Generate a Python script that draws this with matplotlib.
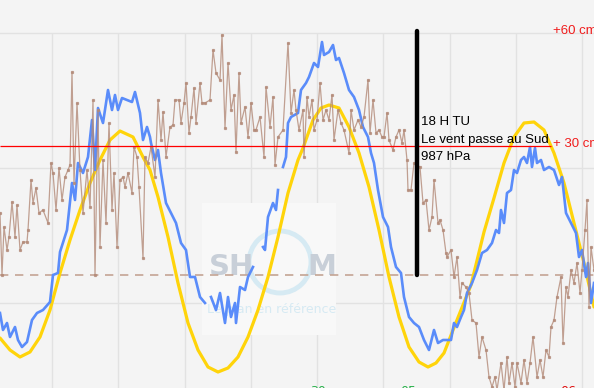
import numpy as np
import matplotlib.pyplot as plt
from matplotlib.patches import Circle, Rectangle

nan = np.nan

# x: time in chart columns, y: height relative to the dashed reference level
tide_t = [0, 10, 20, 30, 40, 50, 60, 70, 80, 90, 100, 110, 120, 133, 143, 150, 158, 168, 178, 188,
          198, 208, 218, 228, 238, 248, 258, 268, 278, 288, 298, 303, 313, 321, 329, 339, 349, 359, 369,
          379, 389, 399, 409, 419, 428, 436, 444, 457, 471, 484, 494, 504, 514, 524, 534, 544, 554, 564,
          574, 584, 594]
tide_h = [-63, -75, -82, -77, -62, -35, 2, 35, 65, 92, 115, 135, 144, 138, 118, 105, 78, 38, -8, -48,
          -75, -92, -97, -93, -82, -62, -35, -2, 38, 82, 115, 127, 155, 167, 170, 167, 148, 122, 88,
          45, -2, -42, -72, -87, -92, -88, -78, -45, -10, 43, 77, 112, 138, 152, 153, 145, 122, 92,
          52, 12, -32]

obs_t = [0, 3, 7, 10, 15, 18, 22, 27, 32, 37, 43, 50, 53, 58, 60, 67, 72, 75, 78, 83,
         88, 92, 95, 98, 103, 108, 112, 115, 118, 122, 127, 132, 135, 140, 143, 147, 150, 151, 155, 158,
         161, 166, 171, 176, 181, 186, 190, 195, 200, 205, 208, 211, 216, 220, 225, 228, 231, 235, 236, 240,
         245, 248, 253, 258, 263, 265, 268, 273, 276, 278, 280, 283, 286, 288, 291, 298, 301, 306, 309, 314,
         318, 322, 324, 329, 333, 336, 339, 344, 349, 354, 359, 363, 368, 371, 374, 378, 383, 388, 391, 396,
         401, 404, 409, 414, 419, 424, 429, 434, 438, 443, 451, 454, 457, 461, 464, 467, 472, 477, 482, 487,
         492, 496, 499, 501, 504, 507, 511, 514, 517, 521, 524, 527, 530, 532, 535, 537, 541, 544, 549, 554,
         559, 562, 566, 571, 576, 579, 582, 586, 588, 591, 594]
obs_h = [-38, -55, -48, -62, -52, -65, -72, -67, -45, -38, -35, -27, 0, 2, 23, 45, 92, 75, 112, 102,
         118, 155, 105, 167, 152, 185, 165, 180, 165, 177, 175, 173, 183, 162, 135, 148, 138, 132, 115, 125,
         102, 72, 62, 52, 32, 25, -2, -2, -22, -28, nan, -22, -35, -18, -48, -22, -42, -28, -48, -12,
         -15, -2, 8, nan, 28, 25, 58, 72, 65, 85, nan, 108, 118, 152, 158, 162, 185, 192, 198, 212,
         208, 233, 220, 223, 230, 215, 217, 202, 185, 178, 165, 148, 138, 122, 112, 85, 58, 48, 28, 8,
         2, -22, -42, -48, -52, -65, -75, -55, -68, -65, -65, -48, -52, -42, -35, -18, -8, 5, 22, 25,
         32, 45, 42, 65, 52, 82, 85, 105, 102, 115, 118, 112, 128, 108, 127, 112, 115, 105, 108, 105,
         90, 98, 62, 52, 42, 18, 25, -2, 12, -28, -8]

surge_t = [0, 2, 4, 7, 9, 12, 15, 17, 20, 23, 27, 28, 31, 33, 36, 39, 43, 48, 51, 53,
           56, 59, 62, 65, 68, 70, 72, 74, 77, 80, 83, 87, 90, 93, 95, 98, 100, 103, 106, 109,
           112, 114, 117, 120, 123, 125, 128, 132, 134, 137, 139, 143, 145, 148, 151, 155, 158, 161, 163, 166,
           170, 173, 175, 179, 181, 184, 186, 189, 191, 194, 196, 200, 202, 205, 210, 213, 216, 220, 222, 225,
           228, 231, 234, 236, 239, 241, 245, 248, 251, 254, 256, 260, 264, 266, 270, 273, 275, 278, 283, 288,
           291, 294, 296, 299, 303, 304, 307, 309, 312, 314, 317, 320, 323, 326, 329, 332, 334, 338, 341, 344,
           349, 351, 354, 358, 361, 364, 368, 370, 373, 376, 379, 382, 384, 387, 389, 393, 396, 399, 402, 404,
           407, 408, 411, 414, 420, 423, 426, 429, 432, 434, 438, 440, 443, 446, 447, 451, 454, 457, 460, 462,
           466, 469, 472, 476, 479, 482, 486, 489, 492, 495, 497, 501, 504, 507, 509, 512, 515, 517, 521, 524,
           527, 530, 533, 537, 540, 543, 546, 549, 551, 554, 557, 561, 563, 566, 568, 571, 574, 577, 580, 582,
           585, 587, 589, 591, 594]
surge_h = [62, 0, 48, 25, 38, 73, 38, 70, 25, 33, 33, 45, 95, 72, 87, 62, 65, 52, 112, 102,
           65, 107, 75, 98, 105, 110, 203, 92, 172, 105, 62, 105, 68, 175, 0, 165, 28, 115, 52, 152,
           65, 102, 28, 95, 98, 88, 102, 82, 128, 118, 88, 17, 118, 112, 128, 98, 175, 135, 163, 118,
           148, 150, 175, 175, 152, 172, 192, 142, 158, 187, 152, 192, 172, 172, 175, 225, 202, 195, 240, 147,
           212, 165, 180, 123, 202, 152, 168, 138, 172, 145, 145, 158, 118, 188, 148, 178, 110, 138, 145, 232,
           162, 185, 165, 145, 165, 118, 178, 158, 175, 145, 155, 192, 155, 165, 155, 180, 135, 165, 152, 145,
           122, 165, 145, 155, 148, 158, 195, 142, 175, 142, 145, 138, 138, 162, 135, 125, 138, 145, 132, 145,
           115, 85, 85, 112, 108, 72, 75, 45, 58, 95, 52, 55, 45, 22, 18, 25, -2, 18, -22, -8,
           -12, -18, -45, -48, -82, -62, -75, -102, -112, -102, -115, -88, -115, -82, -108, -88, -112, -88, -108, -85,
           -108, -88, -62, -102, -85, -102, -75, -82, -52, -45, -22, -2, -68, -12, -22, 5, -8, 12, -18, 5,
           45, 75, -32, 28, 5]

grid_x = [52, 118.25, 184.5, 250.75, 317, 383.25, 449.5, 515.75, 582]
grid_y = [-28, 107, 242]
ref_level = 0
red_level = 129
event_t = 417
event_top = 244
notes = ['18 H TU', 'Le vent passe au Sud', '987 hPa']
bottom_labels = ['30', '05', '06']
bottom_pos = [318, 408, 568]
bottom_cols = ['#2bb24c', '#2bb24c', '#e01010']

fig = plt.figure(figsize=(5.94, 3.88), dpi=100)
ax = fig.add_axes([0, 0, 1, 1])
fig.patch.set_facecolor('#f4f4f4')
ax.set_facecolor('#f4f4f4')
ax.set_xlim(0, 594)
ax.set_ylim(-113, 275)
for s in ax.spines.values():
    s.set_visible(False)
ax.set_xticks([])
ax.set_yticks([])

for gx in grid_x:
    ax.vlines(gx, -113, grid_y[-1], color='#e2e2e2', lw=1, zorder=0)
for gy in grid_y:
    ax.axhline(gy, color='#e2e2e2', lw=1, zorder=0)

# SHOM watermark
ax.add_patch(Rectangle((202, -60), 134, 132, color='#f8f8f8', zorder=0.5, lw=0))
ax.add_patch(Circle((280, 13), 31, fill=False, ec='#d6eaf3', lw=3.5, zorder=0.6))
ax.text(209, 0, 'SH', fontsize=21, fontweight='bold', color='#c8cfd8', family='DejaVu Sans', zorder=0.6)
ax.text(307, 0, 'M', fontsize=21, fontweight='bold', color='#c8cfd8', family='DejaVu Sans', zorder=0.6)
ax.text(272, -35, 'Le plan en référence', fontsize=9, color='#d6eaf3', ha='center', va='center', zorder=0.6)

ax.axhline(ref_level, color='#c4a494', lw=1.2, ls=(0, (5, 4)), zorder=1)

ax.plot(tide_t, tide_h, color='#ffd40a', lw=2.3, solid_capstyle='round', zorder=2)
ax.plot(obs_t, obs_h, color='#5a8cfa', lw=1.9, zorder=3)
ax.plot(surge_t, surge_h, color='#b38a78', lw=0.9, marker='s', ms=1.3, alpha=0.8, zorder=4)

ax.hlines(red_level, 0, 551, color='#ff0000', lw=0.9, zorder=5)
ax.vlines(event_t, ref_level, event_top, color='black', lw=3.2, capstyle='round', zorder=6)

for i, txt in enumerate(notes):
    ax.text(421, 153 - 17.5 * i, txt, fontsize=9.5, family='Liberation Sans', color='black',
            va='center', zorder=7)

ax.text(553, 244, '+60 cm', fontsize=9.5, family='Liberation Sans', color='#f01c1c', va='center', zorder=7)
ax.text(553, 131, '+ 30 cm', fontsize=9.5, family='Liberation Sans', color='#f01c1c', va='center', zorder=7)

for lab, pos, col in zip(bottom_labels, bottom_pos, bottom_cols):
    ax.text(pos, -110, lab, fontsize=9, color=col, ha='center', va='top', zorder=7)

fig.savefig('out.png', dpi=100, facecolor=fig.get_facecolor())
